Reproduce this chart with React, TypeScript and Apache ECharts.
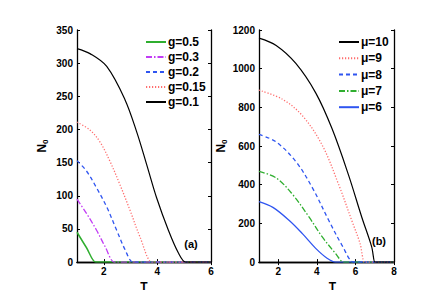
import React, { useEffect, useRef } from "react";
import * as echarts from "echarts";

// Panel (a): N0 vs T for different g
const tG05 = [1, 1.35, 1.7, 1.75, 6];
const nG05 = [45, 22, 0, 0, 0];
const tG03 = [1, 1.36, 1.73, 2.04, 2.39, 2.44, 6];
const nG03 = [95, 73, 48, 24, 0, 0, 0];
const tG02 = [1, 1.36, 1.73, 2.11, 2.48, 2.79, 3.08, 3.13, 6];
const nG02 = [153, 137, 112, 83, 48, 19, 0, 0, 0];
const tG015 = [1, 1.49, 1.86, 2.23, 2.6, 2.98, 3.35, 3.79, 3.84, 6];
const nG015 = [211, 199, 181, 152, 117, 78, 38, 0, 0, 0];
const tG01 = [1, 1.5, 2.11, 2.79, 3.23, 3.6, 3.97, 4.41, 4.78, 5.05, 5.1, 6];
const nG01 = [322, 314, 295, 245, 196, 147, 97, 48, 14, 0, 0, 0];

// Panel (b): N0 vs T for different mu
const tMu10 = [1, 1.89, 2.91, 3.94, 4.79, 5.64, 6.33, 6.84, 7.01, 7.06, 8];
const nMu10 = [1158, 1120, 1027, 875, 689, 451, 232, 80, 0, 0, 0];
const tMu9 = [1, 2.23, 3.25, 4.28, 5.13, 5.81, 6.24, 6.46, 6.51, 8];
const nMu9 = [889, 841, 757, 604, 401, 215, 96, 0, 0, 0];
const tMu8 = [1, 1.89, 2.91, 3.77, 4.62, 5.3, 5.9, 5.95, 8];
const nMu8 = [660, 621, 520, 384, 215, 88, 0, 0, 0];
const tMu7 = [1, 1.89, 2.74, 3.6, 4.28, 4.96, 5.39, 5.44, 8];
const nMu7 = [469, 435, 350, 232, 130, 46, 0, 0, 0];
const tMu6 = [1, 1.72, 2.57, 3.25, 3.94, 4.53, 4.96, 5.01, 8];
const nMu6 = [313, 283, 215, 147, 71, 20, 0, 0, 0];

const xTicksA = [2, 4, 6];
const xTicksB = [2, 4, 6, 8];

const zip = (t: number[], n: number[]) => t.map((v, i) => [v, n[i]]);

const FONT = "Liberation Sans, Arial, sans-serif";

export default function App() {
  const ref = useRef<HTMLDivElement>(null);
  useEffect(() => {
    if (!ref.current) return;
    const chart = echarts.init(ref.current, undefined, { renderer: "svg" });

    const axisLine = { show: true, lineStyle: { color: "#000", width: 1.3 } };
    const tickIn = (vals?: number[]) => ({
      show: true,
      inside: true,
      length: 3,
      lineStyle: { color: "#000", width: 1 },
      ...(vals ? { customValues: vals } : {}),
    });
    const label = (vals?: number[]) => ({
      show: true,
      color: "#000",
      fontFamily: FONT,
      fontWeight: "bold" as const,
      fontSize: 10,
      margin: 4,
      formatter: (v: number) => String(v),
      ...(vals ? { customValues: vals } : {}),
    });
    const nameStyle = (shift: number) => ({
      color: "#000",
      fontFamily: FONT,
      fontWeight: "bold" as const,
      fontSize: 12,
      padding: [0, 0, 0, shift],
    });
    const n0Rich = {
      rich: {
        n: { fontFamily: FONT, fontWeight: "bold", fontSize: 12, color: "#000" },
        s: {
          fontFamily: FONT,
          fontWeight: "bold",
          fontSize: 8,
          color: "#000",
          padding: [7, 0, 0, 0],
        },
      },
    };

    const mkX = (gi: number, max: number, ticks: number[], top: boolean, shift: number) => ({
      type: "value",
      gridIndex: gi,
      min: 1,
      max,
      position: top ? "top" : "bottom",
      axisLine,
      axisTick: tickIn(ticks),
      axisLabel: top ? { show: false } : label(ticks),
      splitLine: { show: false },
      ...(top
        ? {}
        : { name: "T", nameLocation: "middle", nameGap: 15, nameTextStyle: nameStyle(shift) }),
    });
    const mkY = (gi: number, max: number, interval: number, right: boolean, gap: number) => ({
      type: "value",
      gridIndex: gi,
      min: 0,
      max,
      interval,
      position: right ? "right" : "left",
      axisLine,
      axisTick: tickIn(),
      axisLabel: right ? { show: false } : label(),
      splitLine: { show: false },
      ...(right
        ? {}
        : {
            name: "{n|N}{s|0}",
            nameLocation: "middle",
            nameGap: gap,
            nameRotate: 90,
            nameTextStyle: n0Rich,
          }),
    });

    const line = (
      name: string,
      t: number[],
      n: number[],
      color: string,
      type: any,
      xi: number,
      yi: number,
      width = 1.3
    ) => ({
      type: "line",
      name,
      data: zip(t, n),
      xAxisIndex: xi,
      yAxisIndex: yi,
      showSymbol: false,
      symbol: "none",
      smooth: 0.35,
      lineStyle: { color, width, type },
      itemStyle: { color },
    });

    const green = "#2fae2f";
    const magenta = "#c23cf5";
    const blue = "#2f55f0";
    const red = "#ff6e6e";
    const dashdot = [6, 2, 1.5, 2];
    const dashed = [4, 3];
    const dotted = [1.2, 1.8];

    const legendStyle = {
      color: "#000",
      fontFamily: FONT,
      fontWeight: "bold" as const,
      fontSize: 12,
      padding: [0, 0, 0, -3],
    };
    const legendBase = {
      top: 36,
      orient: "vertical",
      padding: 0,
      itemWidth: 20,
      itemHeight: 12,
      itemStyle: { opacity: 0, borderWidth: 0 },
      textStyle: legendStyle,
    };

    chart.setOption({
      animation: false,
      grid: [
        { left: 77, right: 225, top: 30, bottom: 32 },
        { left: 259, right: 42, top: 30, bottom: 32 },
      ],
      xAxis: [
        mkX(0, 6, xTicksA, false, 0),
        mkX(0, 6, xTicksA, true, 0),
        mkX(1, 8, xTicksB, false, 12),
        mkX(1, 8, xTicksB, true, 0),
      ],
      yAxis: [
        mkY(0, 350, 50, false, 28),
        mkY(0, 350, 50, true, 0),
        mkY(1, 1200, 200, false, 25),
        mkY(1, 1200, 200, true, 0),
      ],
      legend: [
        {
          ...legendBase,
          left: 145,
          itemGap: 3,
          data: ["g=0.5", "g=0.3", "g=0.2", "g=0.15", "g=0.1"],
        },
        {
          ...legendBase,
          left: 338,
          itemGap: 4.3,
          data: ["\u03bc=10", "\u03bc=9", "\u03bc=8", "\u03bc=7", "\u03bc=6"],
        },
      ],
      graphic: [
        {
          type: "text",
          x: 191,
          y: 244,
          style: {
            text: "(a)",
            fill: "#000",
            font: `bold 11px ${FONT}`,
            align: "center",
            verticalAlign: "middle",
          },
        },
        {
          type: "text",
          x: 379,
          y: 241,
          style: {
            text: "(b)",
            fill: "#000",
            font: `bold 11px ${FONT}`,
            align: "center",
            verticalAlign: "middle",
          },
        },
      ],
      series: [
        line("g=0.5", tG05, nG05, green, "solid", 0, 0, 1.5),
        line("g=0.3", tG03, nG03, magenta, dashdot, 0, 0),
        line("g=0.2", tG02, nG02, blue, dashed, 0, 0),
        line("g=0.15", tG015, nG015, red, dotted, 0, 0),
        line("g=0.1", tG01, nG01, "#000", "solid", 0, 0, 1.2),
        line("\u03bc=6", tMu6, nMu6, blue, "solid", 2, 2),
        line("\u03bc=7", tMu7, nMu7, green, dashdot, 2, 2),
        line("\u03bc=8", tMu8, nMu8, blue, dashed, 2, 2),
        line("\u03bc=9", tMu9, nMu9, red, dotted, 2, 2),
        line("\u03bc=10", tMu10, nMu10, "#000", "solid", 2, 2, 1.2),
      ],
    });
    return () => chart.dispose();
  }, []);
  return <div ref={ref} style={{ width: 436, height: 298, margin: -8 }} />;
}
